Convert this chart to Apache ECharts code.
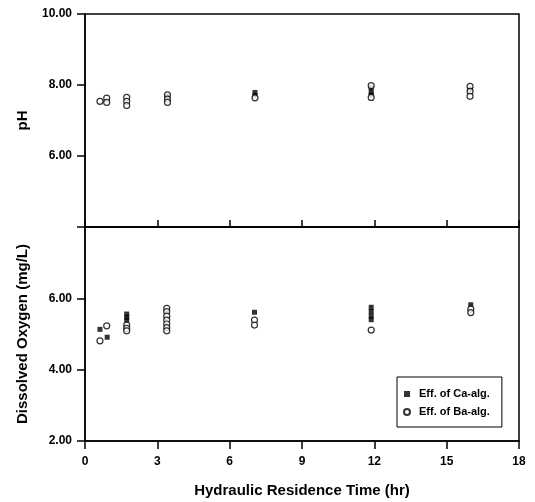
<!DOCTYPE html>
<html>
<head>
<meta charset="utf-8">
<script src="https://cdn.jsdelivr.net/npm/echarts@6/dist/echarts.min.js"></script>
<style>
  html, body { margin: 0; padding: 0; background: #fff; }
  #chart { width: 535px; height: 502px; }
</style>
</head>
<body>
<div id="chart"></div>
<script>
var xTicks = [0, 3, 6, 9, 12, 15, 18]

// pH (top panel)
var caPH = [[3.42, 7.68], [7.05, 7.79], [7.05, 7.70], [11.87, 7.92], [11.87, 7.80],
  [11.87, 7.72], [15.97, 7.88]]
var baPH = [[0.62, 7.54], [0.9, 7.63], [0.9, 7.51], [1.73, 7.65], [1.73, 7.54], [1.73, 7.42],
  [3.42, 7.72], [3.42, 7.60], [3.42, 7.51], [7.05, 7.64], [11.87, 7.98], [11.87, 7.65],
  [15.97, 7.96], [15.97, 7.82], [15.97, 7.68]]

// dissolved oxygen, mg/L (bottom panel)
var caDO = [[0.62, 5.13], [0.92, 4.91], [1.73, 5.56], [1.73, 5.47], [1.73, 5.39], [7.03, 5.61],
  [11.87, 5.75], [11.87, 5.63], [11.87, 5.50], [11.87, 5.40], [16.0, 5.82]]
var baDO = [[0.62, 4.81], [0.9, 5.23], [1.73, 5.25], [1.73, 5.16], [1.73, 5.09],
  [3.39, 5.72], [3.39, 5.63], [3.39, 5.50], [3.39, 5.39], [3.39, 5.28], [3.39, 5.18], [3.39, 5.09],
  [7.03, 5.39], [7.03, 5.25], [11.87, 5.11], [16.0, 5.70], [16.0, 5.60]]

var font = 'Liberation Sans, Arial, sans-serif'
var caName = 'Eff. of Ca-alg.'
var baName = 'Eff. of Ba-alg.'

var chart = echarts.init(document.getElementById('chart'))

function yAxis(idx, min, max, name, hideVal) {
  return {
    type: 'value',
    gridIndex: idx,
    min: min,
    max: max,
    interval: 2,
    name: name,
    nameLocation: 'middle',
    nameGap: 55,
    nameTextStyle: { fontFamily: font, fontWeight: 'bold', fontSize: 15, color: '#000' },
    axisLine: { show: true, lineStyle: { color: '#000', width: 1.5 } },
    axisTick: { show: true, inside: false, length: 8, lineStyle: { color: '#000', width: 1.5 } },
    axisLabel: {
      margin: 13,
      fontFamily: font,
      fontWeight: 'bold',
      fontSize: 12,
      color: '#000',
      formatter: function(v) {
        return v === hideVal ? '' : v.toFixed(2)
      }
    },
    splitLine: { show: false }
  }
}

chart.setOption({
  animation: false,
  grid: [
    { left: 85, top: 14, width: 434, height: 213, show: true, borderColor: '#000', borderWidth: 1.5 },
    { left: 85, top: 227, width: 434, height: 214, show: true, borderColor: '#000', borderWidth: 1.5 }
  ],
  legend: {
    data: [
      { name: caName, icon: 'path://M0,0h10v10h-10z' },
      { name: baName, icon: 'circle' }
    ],
    orient: 'vertical',
    left: 397,
    top: 377,
    padding: [11, 12, 9, 6],
    itemGap: 6,
    itemWidth: 14,
    itemHeight: 6,
    borderColor: '#000',
    borderWidth: 1,
    textStyle: { fontFamily: font, fontWeight: 'bold', fontSize: 11, color: '#000', lineHeight: 12 }
  },
  xAxis: [
    {
      type: 'value',
      gridIndex: 0,
      min: 0,
      max: 18,
      interval: 3,
      axisLine: { show: true, lineStyle: { color: '#000', width: 1.5 } },
      axisTick: { show: true, inside: true, length: 7, lineStyle: { color: '#000', width: 1.5 } },
      axisLabel: { show: false },
      splitLine: { show: false }
    },
    {
      type: 'value',
      gridIndex: 1,
      min: 0,
      max: 18,
      interval: 3,
      name: 'Hydraulic Residence Time (hr)',
      nameLocation: 'middle',
      nameGap: 42,
      nameTextStyle: { fontFamily: font, fontWeight: 'bold', fontSize: 15, color: '#000' },
      axisLine: { show: true, lineStyle: { color: '#000', width: 1.5 } },
      axisTick: { show: true, inside: false, length: 8, lineStyle: { color: '#000', width: 1.5 } },
      axisLabel: {
        margin: 15,
        fontFamily: font,
        fontWeight: 'bold',
        fontSize: 12,
        color: '#000',
        showMinLabel: true,
        showMaxLabel: true,
        customValues: xTicks
      },
      splitLine: { show: false }
    }
  ],
  yAxis: [
    yAxis(0, 4, 10, 'pH', 4),
    yAxis(1, 2, 8, 'Dissolved Oxygen (mg/L)', 8)
  ],
  series: [
    {
      name: caName, type: 'scatter', xAxisIndex: 0, yAxisIndex: 0, data: caPH,
      symbol: 'rect', symbolSize: 5, itemStyle: { color: '#000' }
    },
    {
      name: baName, type: 'scatter', xAxisIndex: 0, yAxisIndex: 0, data: baPH, z: 3,
      symbol: 'circle', symbolSize: 6, itemStyle: { color: '#fff', borderColor: '#000', borderWidth: 1.2 }
    },
    {
      name: caName, type: 'scatter', xAxisIndex: 1, yAxisIndex: 1, data: caDO,
      symbol: 'rect', symbolSize: 5, itemStyle: { color: '#000' }
    },
    {
      name: baName, type: 'scatter', xAxisIndex: 1, yAxisIndex: 1, data: baDO, z: 3,
      symbol: 'circle', symbolSize: 6, itemStyle: { color: '#fff', borderColor: '#000', borderWidth: 1.2 }
    }
  ]
})
</script>
</body>
</html>
